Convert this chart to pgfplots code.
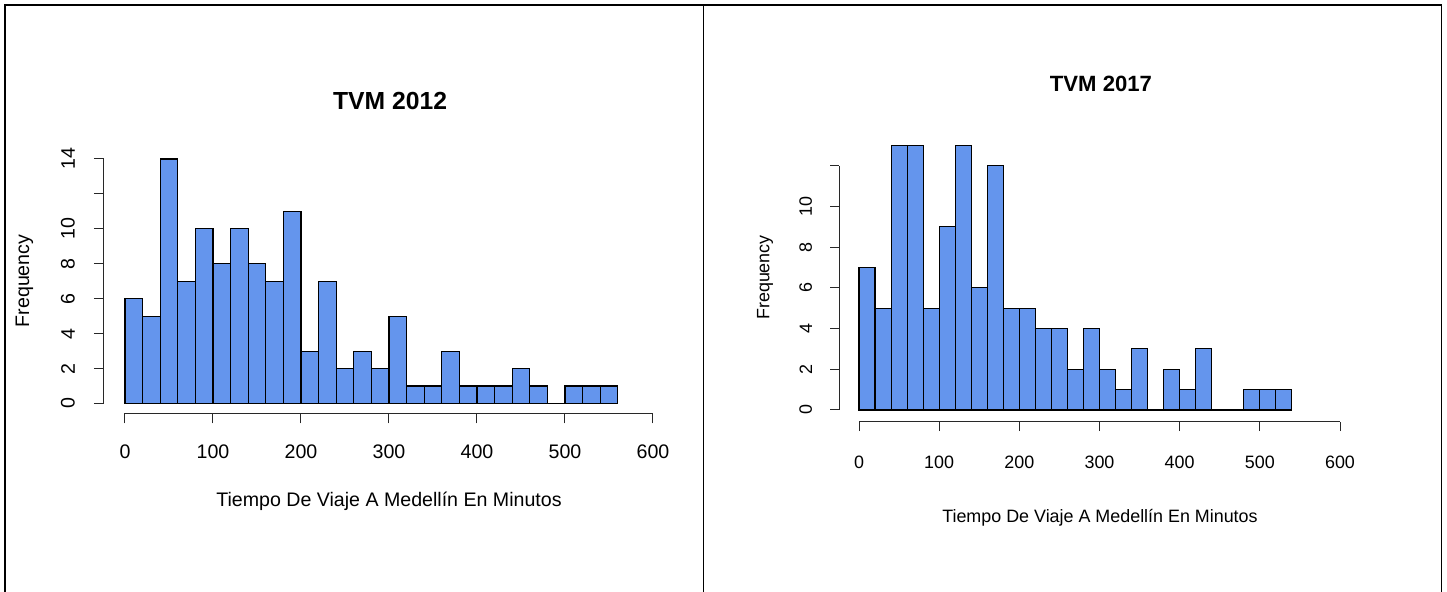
\documentclass[border=0pt]{standalone}
\usepackage{fontspec}
\setmainfont{Liberation Sans}
\usepackage{pgfplots}
\pgfplotsset{compat=1.18}
\definecolor{barblue}{RGB}{100,149,237}
\definecolor{axgray}{RGB}{40,40,40}

\pgfplotstableread{
x y
0 6
20 5
40 14
60 7
80 10
100 8
120 10
140 8
160 7
180 11
200 3
220 7
240 2
260 3
280 2
300 5
320 1
340 1
360 3
380 1
400 1
420 1
440 2
460 1
480 0
500 1
520 1
540 1
560 0
}\tvmA

\pgfplotstableread{
x y
0 7
20 5
40 13
60 13
80 5
100 9
120 13
140 6
160 12
180 5
200 5
220 4
240 4
260 2
280 4
300 2
320 1
340 3
360 0
380 2
400 1
420 3
440 0
460 0
480 1
500 1
520 1
540 0
}\tvmB

\pgfplotsset{
  rhist/.style={
    scale only axis, clip=false,
    separate axis lines,
    axis x line*=bottom, axis y line*=left,
    axis line style={-, line width=0.5pt, axgray},
    tick align=outside,
    tick style={line width=0.5pt, axgray},
    /pgf/number format/assume math mode=true,
    xmin=0, xmax=600, xtick={0,100,...,600},
    yticklabel style={rotate=90, anchor=south},
  }
}

\begin{document}
\begin{tikzpicture}
\useasboundingbox (0,0) rectangle (723.5pt,296pt);
\draw[line width=0.9pt] (2.5pt,0) -- (2.5pt,293.5pt) -- (720.75pt,293.5pt) -- (720.75pt,0);
\draw[line width=0.9pt] (351.75pt,0) -- (351.75pt,293.5pt);

\begin{axis}[rhist,
  at={(62.5pt,94.25pt)}, anchor=origin,
  width=264pt, height=122.25pt,
  ymin=0, ymax=14,
  ytick={0,2,...,14}, yticklabels={0,2,4,6,8,10,,14},
  axis x line shift=4.9pt, axis y line shift=10.5pt,
  major tick length=5pt,
  tick label style={font=\fontsize{9.8}{11.8}\selectfont},
  xticklabel shift=7pt, yticklabel shift=6pt,
  label style={font=\fontsize{9.8}{11.8}\selectfont},
  xlabel={Tiempo De Viaje A Medellín En Minutos},
  xlabel style={at={(axis description cs:0.5,-0.4)}, anchor=center},
  ylabel={Frequency},
  ylabel style={at={(axis description cs:-0.1905,0.501)}, anchor=center},
  title={TVM 2012},
  title style={at={(axis description cs:0.502,1.188)}, anchor=center, font=\bfseries\fontsize{12.35}{14}\selectfont},
]
\addplot[ybar interval, fill=barblue, draw=black, line width=0.55pt] table[x=x,y=y] {\tvmA};
\end{axis}

\begin{axis}[rhist,
  at={(429.5pt,91pt)}, anchor=origin,
  width=240.5pt, height=122.15pt,
  ymin=0, ymax=12,
  ytick={0,2,...,12}, yticklabels={0,2,4,6,8,10,},
  axis x line shift=6pt, axis y line shift=9.85pt,
  major tick length=4.6pt,
  tick label style={font=\fontsize{8.95}{10.8}\selectfont},
  xticklabel shift=9pt, yticklabel shift=5.5pt,
  label style={font=\fontsize{8.95}{10.8}\selectfont},
  xlabel={Tiempo De Viaje A Medellín En Minutos},
  xlabel style={at={(axis description cs:0.501,-0.442)}, anchor=center},
  ylabel={Frequency},
  ylabel style={at={(axis description cs:-0.1954,0.5424)}, anchor=center},
  title={TVM 2017},
  title style={at={(axis description cs:0.503,1.285)}, anchor=center, font=\bfseries\fontsize{11.05}{13}\selectfont},
]
\addplot[ybar interval, fill=barblue, draw=black, line width=0.55pt] table[x=x,y=y] {\tvmB};
\end{axis}
\end{tikzpicture}
\end{document}
